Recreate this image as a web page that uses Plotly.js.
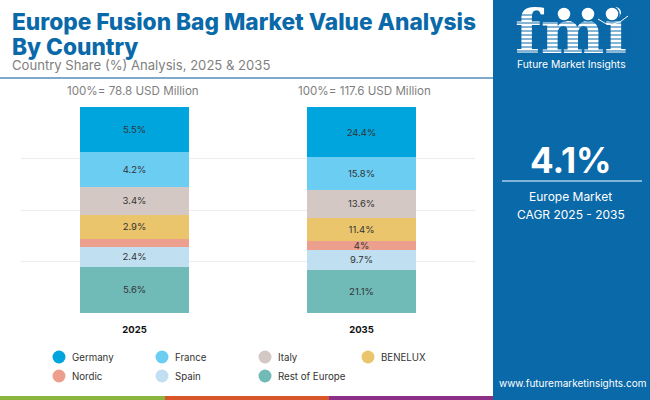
<!DOCTYPE html>
<html>
<head>
<meta charset="utf-8">
<script src="https://cdn.plot.ly/plotly-3.0.1.min.js"></script>
<style>html,body{margin:0;padding:0;background:#fff}#chart{width:650px;height:400px}</style>
</head>
<body>
<div id="chart"></div>
<script>
const years = ['2025', '2035'];
const seriesNames = ['Germany', 'France', 'Italy', 'BENELUX', 'Nordic', 'Spain', 'Rest of Europe'];
const seriesColors = ['#00a5dd', '#6ccdf3', '#d4c8c5', '#ebc56b', '#eb9f8c', '#c0e0f2', '#70bab8'];
const germany = [5.5, 24.4];
const france = [4.2, 15.8];
const italy = [3.4, 13.6];
const benelux = [2.9, 11.4];
const nordic = [1.0, 4];
const spain = [2.4, 9.7];
const restOfEurope = [5.6, 21.1];
const nordicLabels = ['', '4%'];
const marketSizes = ['100%= 78.8 USD Million', '100%= 117.6 USD Million'];

const FONT = 'Inter, "Open Sans", sans-serif';
const PANEL = '#0a69a8';
const stacks = [germany, france, italy, benelux, nordic, spain, restOfEurope];

const px = x => x / 650, py = y => 1 - y / 400;
const bars = seriesNames.map((name, i) => ({
  type: 'bar', name, x: years, y: stacks[i],
  marker: {color: seriesColors[i], line: {width: 0}},
  text: name === 'Nordic' ? nordicLabels : stacks[i].map(v => v + '%'),
  textposition: 'inside', insidetextanchor: 'middle', textangle: 0,
  textfont: {family: FONT, size: 9.5, color: '#333333'},
  constraintext: 'none', cliponaxis: false, showlegend: false, hoverinfo: 'skip'
})).reverse();

const legendEntry = (name, color) => ({
  type: 'scatter', mode: 'markers', name, x: [years[0]], y: [null],
  marker: {color, size: 13, symbol: 'circle'}, hoverinfo: 'skip'
});
const legendTraces = seriesNames.map((name, i) => legendEntry(name, seriesColors[i]));
// two blank entries end the first legend row after four columns
legendTraces.splice(4, 0, legendEntry(' ', 'rgba(0,0,0,0)'), legendEntry('  ', 'rgba(0,0,0,0)'));

const logoText = {
  type: 'scatter', mode: 'text', x: [571], y: [38], text: ['<b>fmi</b>'],
  xaxis: 'x2', yaxis: 'y2', textposition: 'middle center', cliponaxis: false,
  textfont: {family: '"DejaVu Serif", serif', size: 60, color: '#ffffff'},
  showlegend: false, hoverinfo: 'skip'
};

const shapes = [
  {type: 'rect', xref: 'paper', yref: 'paper', x0: px(493), x1: 1, y0: 0, y1: 1, fillcolor: PANEL, line: {width: 0}, layer: 'below'},
  {type: 'rect', xref: 'paper', yref: 'paper', x0: 0, x1: px(165), y0: 0, y1: py(396), fillcolor: '#8ab53f', line: {width: 0}},
  {type: 'rect', xref: 'paper', yref: 'paper', x0: px(165), x1: px(329), y0: 0, y1: py(396), fillcolor: '#d9552a', line: {width: 0}},
  {type: 'rect', xref: 'paper', yref: 'paper', x0: px(329), x1: px(493), y0: 0, y1: py(396), fillcolor: '#8c2f86', line: {width: 0}},
  {type: 'line', xref: 'paper', yref: 'paper', x0: 0, x1: px(493), y0: py(78), y1: py(78), line: {color: '#7fa8c9', width: 2}},
  {type: 'line', xref: 'paper', yref: 'paper', x0: px(502), x1: px(642), y0: py(181), y1: py(181), line: {color: '#7fb4dc', width: 2}}
];
for (let y = 15; y <= 55; y += 4) {
  shapes.push({type: 'line', xref: 'paper', yref: 'paper', x0: px(512), x1: px(630), y0: py(y), y1: py(y), line: {color: PANEL, width: 1}});
}
[564, 588, 612].forEach(cx => shapes.push({
  type: 'circle', xref: 'paper', yref: 'paper', x0: px(cx - 7), x1: px(cx + 7), y0: py(21), y1: py(7),
  fillcolor: '#ffffff', line: {color: PANEL, width: 1.5}
}));
shapes.push({
  type: 'path', xref: 'paper', yref: 'paper', line: {color: '#ffffff', width: 1},
  path: `M ${px(598)} ${py(19)} Q ${px(612)} ${py(31)} ${px(628)} ${py(16)}`
});

const note = (text, x, y, size, color, extra) => Object.assign({
  text, x: px(x), y: py(y), xref: 'paper', yref: 'paper', showarrow: false,
  xanchor: 'center', yanchor: 'middle', font: {family: FONT, size, color}
}, extra || {});

const annotations = [
  note('Country Share (%) Analysis, 2025 &amp; 2035', 10, 65, 13.1, '#7f7f7f', {xanchor: 'left'}),
  note(marketSizes[0], 133, 91, 11.6, '#7f7f7f'),
  note(marketSizes[1], 364, 91, 11.6, '#7f7f7f'),
  note('Future Market Insights', 571, 64, 10.3, '#ffffff'),
  note('<b>4.1%</b>', 571, 160, 35, '#ffffff'),
  note('Europe Market', 570, 197, 12, '#ffffff'),
  note('CAGR 2025 - 2035', 571, 214, 12, '#ffffff'),
  note('www.futuremarketinsights.com', 572, 383, 10, '#ffffff')
];

Plotly.newPlot('chart', [...bars, ...legendTraces, logoText], {
  width: 650, height: 400,
  margin: {l: 0, r: 0, t: 0, b: 0},
  paper_bgcolor: '#ffffff', plot_bgcolor: 'rgba(0,0,0,0)',
  barmode: 'stack', barnorm: 'percent', bargap: 0.52,
  title: {
    text: 'Europe Fusion Bag Market Value Analysis<br>By Country',
    x: px(12), xanchor: 'left', xref: 'paper', y: py(30), yanchor: 'top', yref: 'paper',
    font: {family: FONT, size: 22.7, color: '#0a69a8', weight: 800}
  },
  xaxis: {
    type: 'category', categoryorder: 'array', categoryarray: years,
    domain: [px(21), px(475)], range: [-0.5, 1.5],
    showgrid: false, zeroline: false, showline: false,
    ticks: 'outside', ticklen: 8, tickcolor: 'rgba(0,0,0,0)',
    tickfont: {family: FONT, size: 9.5, color: '#111111', weight: 700}
  },
  yaxis: {
    domain: [py(313), py(107)], range: [0, 100], tickvals: [0, 25, 50, 75, 100],
    showticklabels: false, showgrid: true, gridcolor: '#ececec', gridwidth: 1,
    zeroline: false, showline: false, ticks: ''
  },
  xaxis2: {domain: [0, 1], range: [0, 650], visible: false, anchor: 'y2'},
  yaxis2: {domain: [0, 1], range: [400, 0], visible: false, anchor: 'x2'},
  legend: {
    orientation: 'h', x: px(32), y: py(342.5), xanchor: 'left', yanchor: 'top',
    entrywidth: 58, entrywidthmode: 'pixels', traceorder: 'normal',
    font: {family: FONT, size: 9.7, color: '#333333'}, bgcolor: 'rgba(0,0,0,0)'
  },
  shapes, annotations
}, {displayModeBar: false, staticPlot: true}).then(() => {
  document.querySelectorAll('.gtitle .line').forEach((l, i) => { if (i === 1) l.setAttribute('dy', '1.09em'); });
  document.querySelectorAll('.legend .legendsymbols').forEach(s => s.setAttribute('transform', 'translate(7,0)'));
});
</script>
</body>
</html>
